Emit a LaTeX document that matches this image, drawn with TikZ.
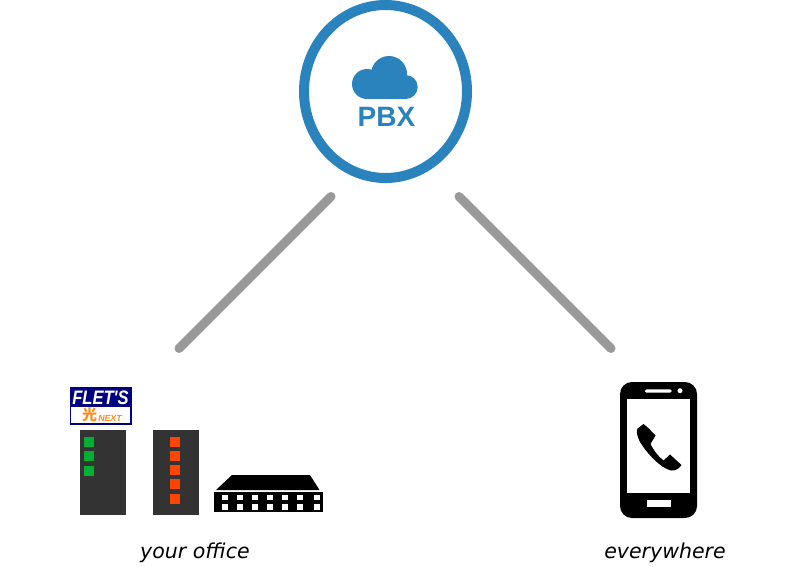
\documentclass[tikz,border=0pt]{standalone}
\usepackage{fontspec}
\setmainfont{DejaVu Sans}
\newfontfamily\logofont{Liberation Sans}
\newfontfamily\cjkfont{Noto Sans CJK JP}
\usetikzlibrary{shapes.geometric}
\definecolor{pbxblue}{HTML}{2B83BE}
\definecolor{linkgray}{HTML}{999999}
\definecolor{boxgray}{HTML}{333333}
\definecolor{ledgreen}{HTML}{00B033}
\definecolor{ledorange}{HTML}{FF4500}
\definecolor{fletsnavy}{HTML}{000080}
\definecolor{fletsorange}{HTML}{FF8C1A}
\tikzset{
  box/.style={rectangle, inner sep=0pt, minimum width=#1},
  onubox/.style={box=46pt, fill=boxgray, minimum height=85pt},
  greenled/.style={box=10pt, fill=ledgreen, minimum height=10pt},
  redled/.style={box=10pt, fill=ledorange, minimum height=10pt},
  port/.style={box=6pt, fill=white, minimum height=5.4pt},
  link/.style={line width=9pt, linkgray, line cap=round},
  place/.style={inner sep=0pt, anchor=base, font=\fontsize{20.5}{20.5}\selectfont\itshape}
}
\begin{document}
\begin{tikzpicture}[x=1pt,y=-1pt]
\useasboundingbox (0,0) rectangle (800,566);
\draw (385.5,91.5) node (pbx) [ellipse, draw=pbxblue, line width=10pt, inner sep=0pt, minimum width=163pt, minimum height=173pt] {};
\fill[pbxblue] (367,84) circle (15);
\fill[pbxblue] (389,74) circle (18);
\fill[pbxblue] (405.7,87) circle (12);
\fill[pbxblue] (367,80) rectangle (405.7,99);
\draw (386.5,126) node (pbxtext) [anchor=base, inner sep=0pt, text=pbxblue, font=\logofont\bfseries\fontsize{28}{28}\selectfont] {PBX};
\coordinate (l1) at (331,196.5);
\coordinate (l2) at (179,348.5);
\coordinate (r1) at (459,196.5);
\coordinate (r2) at (611,348.5);
\draw[link] (l1) -- (l2);
\draw[link] (r1) -- (r2);
\draw (100.5,406) node (flets) [box=61pt, draw=fletsnavy, line width=1pt, fill=fletsnavy, minimum height=37pt] {};
\draw (100.5,415) node (fletsw) [box=59pt, fill=white, minimum height=16pt] {};
\draw (100.5,404) node (fletsname) [anchor=base, inner sep=0pt, xscale=.85, text=white, font=\logofont\bfseries\itshape\fontsize{19.5}{19.5}\selectfont] {FLET'S};
\draw (89.5,420.5) node (hikari) [anchor=base, inner sep=0pt, text=fletsorange, font=\cjkfont\bfseries\fontsize{15}{15}\selectfont] {光};
\draw (110,421) node (fletsnext) [anchor=base, inner sep=0pt, text=fletsorange, font=\logofont\bfseries\itshape\fontsize{8.8}{8.8}\selectfont] {NEXT};
\draw (103,472.5) node (onu1) [onubox] {};
\draw (89,442) node (g1) [greenled] {};
\draw (89,456) node (g2) [greenled] {};
\draw (89,471) node (g3) [greenled] {};
\draw (176,472.5) node (onu2) [onubox] {};
\draw (174.5,442) node (o1) [redled] {};
\draw (174.5,456) node (o2) [redled] {};
\draw (174.5,470) node (o3) [redled] {};
\draw (174.5,484) node (o4) [redled] {};
\draw (174.5,499) node (o5) [redled] {};
\fill (216,490) -- (232,475) -- (310,475) -- (319.5,490) -- cycle;
\draw (268.5,502) node (hub) [box=109pt, fill=black, minimum height=20pt] {};
\draw (224.7,497.7) node (p1) [port] {};
\draw (239.7,497.7) node (p2) [port] {};
\draw (255,497.7) node (p3) [port] {};
\draw (270,497.7) node (p4) [port] {};
\draw (285,497.7) node (p5) [port] {};
\draw (300.3,497.7) node (p6) [port] {};
\draw (316.7,497.7) node (p7) [port] {};
\draw (224.7,507) node (p8) [port] {};
\draw (239.7,507) node (p9) [port] {};
\draw (255,507) node (p10) [port] {};
\draw (270,507) node (p11) [port] {};
\draw (285,507) node (p12) [port] {};
\draw (300.3,507) node (p13) [port] {};
\draw (316.7,507) node (p14) [port] {};
\draw (658.5,450) node (phone) [box=77pt, fill=black, rounded corners=12pt, minimum height=136pt] {};
\draw (658.7,446) node (screen) [box=62.7pt, fill=white, minimum height=94.6pt] {};
\draw (658.3,391) node (speaker) [box=26.7pt, fill=white, rounded corners=1.5pt, minimum height=3.4pt] {};
\draw (680,390.7) node (lens) [circle, fill=white, inner sep=0pt, minimum width=5pt] {};
\draw (658.7,503.3) node (homekey) [box=24pt, fill=white, minimum height=6.7pt] {};
\fill (643.5,424) .. controls (648,427) and (652,432) .. (655.5,435.5) -- (650.5,444) .. controls (654,451) and (658,456) .. (663.5,460.5) -- (670,454.5) -- (681.5,465) .. controls (679,469) and (675,471) .. (671,470.5) .. controls (660,468) and (646,452) .. (640,442) .. controls (637,436) and (636,431) .. (637.5,428.5) -- cycle;
\draw (195,558.5) node (office) [place] {your office};
\draw (665,558.5) node (everywhere) [place] {everywhere};
\end{tikzpicture}
\end{document}
